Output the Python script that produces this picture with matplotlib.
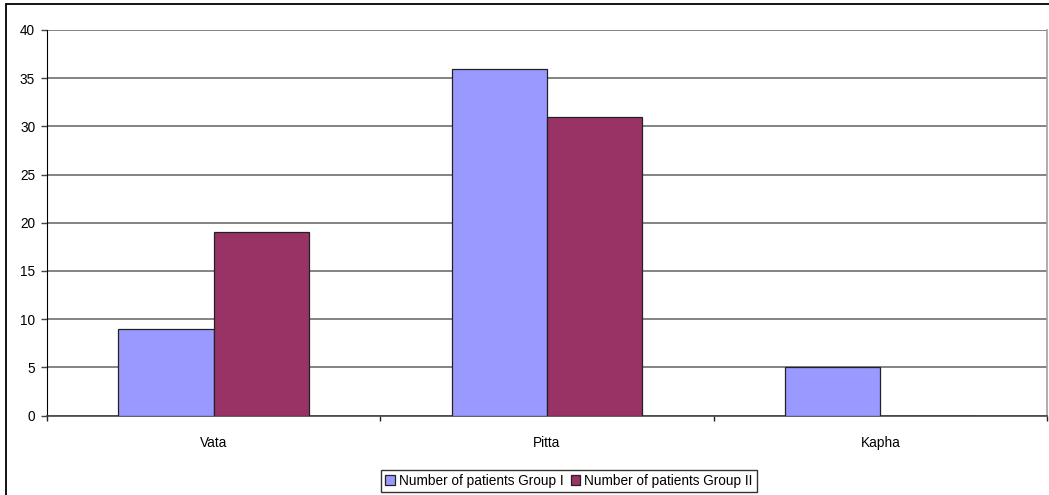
import matplotlib.pyplot as plt
import numpy as np
from matplotlib.patches import Rectangle

plt.rcParams['font.family'] = ['Liberation Sans', 'DejaVu Sans']

categories = ["Vata", "Pitta", "Kapha"]
group1 = [9, 36, 5]
group2 = [19, 31, 0]
series_names = ["Number of patients Group I", "Number of patients Group II"]
yticks = [0, 5, 10, 15, 20, 25, 30, 35, 40]

W, H = 1049, 495
fig = plt.figure(figsize=(W / 100, H / 100), dpi=100)
fig.patch.set_facecolor("white")

# outer chart frame (runs off the right and bottom edge)
fig.add_artist(Rectangle((6 / W, -0.05), 1.2, 1 - 4 / H + 0.05,
                         transform=fig.transFigure, fill=False,
                         edgecolor="black", linewidth=1.3))

ax = fig.add_axes([47 / W, 1 - 415.5 / H, 1000 / W, 385.5 / H])

x = np.arange(len(categories))
bw = 1 / 3.5
ax.bar(x - bw / 2, group1, bw, color="#9999FF", edgecolor="#222222",
       linewidth=0.9, label=series_names[0], zorder=3)
ax.bar(x + bw / 2, group2, bw, color="#993366", edgecolor="#222222",
       linewidth=0.9, label=series_names[1], zorder=3)

ax.set_xlim(-0.5, len(categories) - 0.5)
ax.set_ylim(0, 40)
ax.set_yticks(yticks)
ax.yaxis.grid(True, color="#6e6e6e", linewidth=1.2, zorder=1)

ax.set_xticks(x)
ax.set_xticklabels(categories)
ax.tick_params(axis="x", length=0, labelsize=9.8, pad=15)
ax.set_xticks(np.arange(len(categories) + 1) - 0.5, minor=True)
ax.tick_params(axis="x", which="minor", length=3.5, width=1, color="#222222")
ax.tick_params(axis="y", length=4.5, width=1, color="#444444", labelsize=9.8, pad=4)

ax.spines["top"].set_visible(False)
ax.spines["right"].set_color("#a0a0a0")
ax.spines["right"].set_linewidth(1.2)
ax.spines["left"].set_color("black")
ax.spines["bottom"].set_color("#444444")
ax.spines["bottom"].set_linewidth(1.2)

leg = fig.legend(loc="center", bbox_to_anchor=(569 / W, 1 - 481 / H), ncol=2,
                 fontsize=9.8, frameon=True, fancybox=False, edgecolor="black",
                 handlelength=0.7, handleheight=0.7, handletextpad=0.3,
                 columnspacing=0.5, borderpad=0.3, borderaxespad=0)
leg.get_frame().set_linewidth(1.0)

fig.savefig("out.png", dpi=100)
